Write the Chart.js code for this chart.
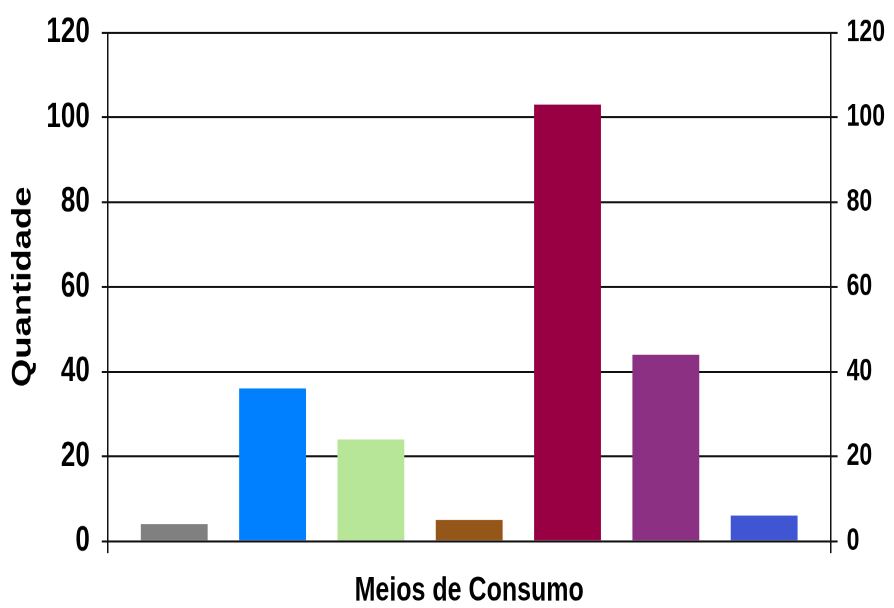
<!DOCTYPE html>
<html>
<head>
<meta charset="utf-8">
<script src="https://cdn.jsdelivr.net/npm/chart.js@4/dist/chart.umd.min.js"></script>
<style>
  html, body { margin: 0; padding: 0; background: #ffffff; overflow: hidden; }
  canvas { display: block; }
</style>
</head>
<body>
<canvas id="chart" width="894" height="450" style="width:894px;height:608px"></canvas>
<script>
// ---- data ----
const categories = ['Meio 1', 'Meio 2', 'Meio 3', 'Meio 4', 'Meio 5', 'Meio 6', 'Meio 7'];
const values = [4, 36, 24, 5, 103, 44, 6];
const yTickValues = [0, 20, 40, 60, 80, 100, 120];
const barColors = ['#808080', '#0080FF', '#B8E698', '#95561A', '#990044', '#8B3083', '#4055D2'];
const xTitle = 'Meios de Consumo';
const yTitle = 'Quantidade';

const points = values.map((v, i) => ({ x: i, y: v, label: categories[i] }));
const lineColor = '#111111';

new Chart(document.getElementById('chart'), {
  type: 'bar',
  data: {
    datasets: [{
      label: yTitle,
      data: points,
      backgroundColor: barColors,
      borderWidth: 0,
      categoryPercentage: 1,
      barPercentage: 0.68
    }]
  },
  options: {
    responsive: false,
    devicePixelRatio: 2,
    animation: false,
    layout: { padding: { left: 4, right: 0, top: 24, bottom: 0 } },
    plugins: { legend: { display: false }, tooltip: { enabled: false } },
    scales: {
      x: {
        type: 'linear',
        offset: false,
        min: -0.676,
        max: categories.length - 1 + 0.676,
        afterBuildTicks: s => { s.ticks = [{ value: s.min }, { value: s.max }]; },
        ticks: { display: false },
        grid: { offset: false, drawOnChartArea: false, drawTicks: true, tickLength: 9, color: lineColor, lineWidth: 1.5 },
        border: { display: false },
        title: {
          display: true, text: xTitle, color: '#000',
          font: { family: 'Liberation Sans', weight: 'bold', size: 25, lineHeight: 0.98 },
          padding: { top: 16, bottom: 0 }
        }
      },
      y: {
        position: 'left',
        min: 0, max: 120,
        afterBuildTicks: s => { s.ticks = yTickValues.map(v => ({ value: v })); },
        afterFit: s => { s.width -= 12; s.paddingTop = 0; s.paddingBottom = 0; },
        ticks: { color: '#000', padding: 12, font: { family: 'Liberation Sans', weight: 'bold', size: 26 } },
        grid: { drawOnChartArea: true, drawTicks: true, tickLength: 6, color: lineColor, lineWidth: 1.5 },
        border: { display: true, color: lineColor, width: 1.5 },
        title: {
          display: true, text: yTitle, color: '#000',
          font: { family: 'Liberation Sans', weight: 'bold', size: 27 },
          padding: { top: 3, bottom: 7 }
        }
      },
      y2: {
        position: 'right',
        min: 0, max: 120,
        afterBuildTicks: s => { s.ticks = yTickValues.map(v => ({ value: v })); },
        afterFit: s => { s.paddingTop = 0; s.paddingBottom = 0; },
        ticks: { color: '#000', padding: 9, font: { family: 'Liberation Sans', weight: 'bold', size: 23 } },
        grid: { drawOnChartArea: false, drawTicks: true, tickLength: 7, color: lineColor, lineWidth: 1.5 },
        border: { display: true, color: lineColor, width: 1.5 }
      }
    }
  }
});
</script>
</body>
</html>
